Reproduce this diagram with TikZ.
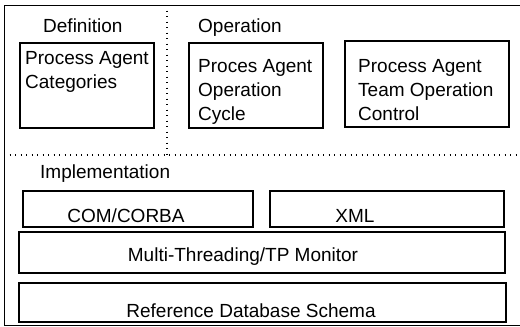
\documentclass[tikz,border=0pt]{standalone}
\usepackage{fontspec}
\setmainfont{Liberation Sans}
\usetikzlibrary{positioning}

\begin{document}
\begin{tikzpicture}[x=1pt, y=-1pt,
        box/.style={draw, line width=1.5pt, anchor=north west, inner sep=0pt},
        lbl/.style={inner sep=0pt, align=left, font=\fontsize{19}{24}\selectfont},
        sep/.style={line width=1.3pt, dash pattern=on 1.3pt off 4.2pt}]
            \useasboundingbox (0,0) rectangle (520,327);
            \draw[line width=0.8pt] (520,5) -- (4,5) -- (4,325) -- (520,325);
            \draw[sep] (4,155) -- (520,155);
            \draw[sep] (167,5) -- (167,155);
            \node[lbl, anchor=base west] (def) at (43,32) {Definition};
            \node[lbl, anchor=base west] (op) at (198,32) {Operation};
            \node[lbl, anchor=base west] (impl) at (40,178) {Implementation};
            \node[box, minimum width=134, minimum height=85] (cat) at (19,42) {};
            \node[box, minimum width=134, minimum height=85] (cyc) at (188,42) {};
            \node[box, minimum width=164, minimum height=86] (team) at (344,40) {};
            % multi-line labels sit on the baseline of their last line
            \node[lbl, anchor=base west] (catt) at (25,88) {Process Agent\\Categories};
            \node[lbl, anchor=base west] (cyct) at (198,120) {Proces Agent\\Operation\\Cycle};
            \node[lbl, anchor=base west] (teamt) at (358,120) {Process Agent\\Team Operation\\Control};
            \node[box, minimum width=230, minimum height=36] (com) at (22,190) {};
            \node[box, minimum width=234, minimum height=36] (xml) at (269,190) {};
            \node[box, minimum width=486, minimum height=41] (mt) at (18,231) {};
            \node[box, minimum width=487, minimum height=39] (db) at (18,282) {};
            \node[lbl, anchor=base] (comt) at (126,222) {COM/CORBA};
            \node[lbl, anchor=base] (xmlt) at (355,222) {XML};
            \node[lbl, anchor=base] (mtt) at (243,261) {Multi-Threading/TP Monitor};
            \node[lbl, anchor=base] (dbt) at (251,317) {Reference Database Schema};
        \end{tikzpicture}
\end{document}
